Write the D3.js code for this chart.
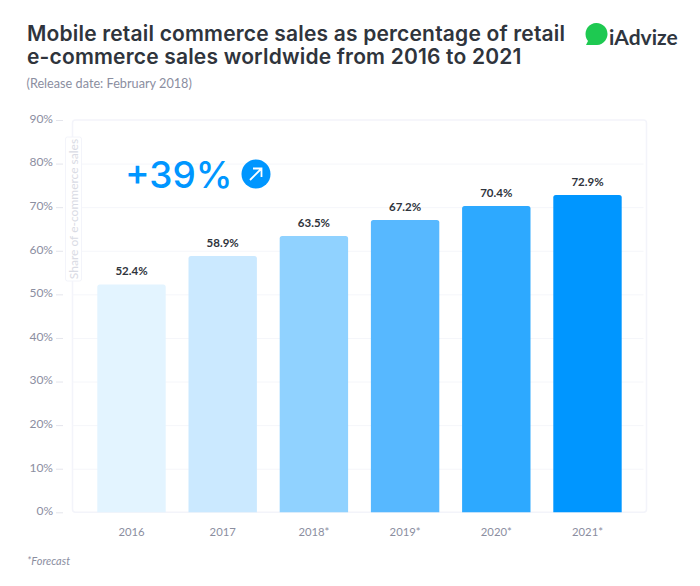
<!DOCTYPE html>
<html lang="en">
<head>
    <meta charset="UTF-8">
    <title>Mobile retail commerce sales</title>
    <script src="https://d3js.org/d3.v7.min.js"></script>
    <style>
        html, body { margin: 0; background: #fff; }
        svg { display: block; font-family: Lato, sans-serif; }
        .axis path { display: none; }
        .title { font-family: Inter, sans-serif; font-size: 21px; letter-spacing: 0.18px; font-weight: 600; fill: #2f343c; }
        .tickLabel text { font-size: 12px; fill: #8b8e9f; font-family: Lato, sans-serif; }
        .tickLabel line { stroke: #e4e5ec; }
        .grid line { stroke: #f5f6fa; }
        .grid text { display: none; }
    </style>
</head>
<body>
    <div id="chart"></div>
    <script>
        const years = ["2016", "2017", "2018*", "2019*", "2020*", "2021*"];
        const shares = [52.4, 58.9, 63.5, 67.2, 70.4, 72.9];
        const barColors = ["#e3f4ff", "#cbe9ff", "#90d2ff", "#57b8ff", "#2da9ff", "#0096ff"];
        const yTicks = [0, 10, 20, 30, 40, 50, 60, 70, 80, 90];
        const titleLines = ["Mobile retail commerce sales as percentage of retail",
            "e-commerce sales worldwide from 2016 to 2021"];

        const width = 700, height = 586;
        const plotLeft = 72.5, plotRight = 646.5, plotTop = 120, plotBottom = 512.3;

        const svg = d3.select("#chart").append("svg")
            .attr("width", width)
            .attr("height", height);

        const x = d3.scaleBand()
            .domain(years)
            .range([plotLeft, plotRight])
            .paddingInner(0.25)
            .paddingOuter(0.272);

        const y = d3.scaleLinear()
            .domain([0, 90])
            .range([plotBottom, plotTop]);

        // title block
        svg.selectAll(".title")
            .data(titleLines)
            .join("text")
            .attr("class", "title")
            .attr("x", 27)
            .attr("y", (d, i) => 41 + i * 23)
            .text(d => d);

        svg.append("text")
            .attr("x", 26.5)
            .attr("y", 87.5)
            .attr("font-size", 12.7)
            .attr("fill", "#8b8e9f")
            .text("(Release date: February 2018)");

        // plot frame
        svg.append("rect")
            .attr("x", plotLeft)
            .attr("y", plotTop)
            .attr("width", plotRight - plotLeft)
            .attr("height", plotBottom - plotTop)
            .attr("rx", 3)
            .attr("fill", "#fff")
            .attr("stroke", "#f3f4fa")
            .attr("stroke-width", 1.5);

        // gridlines and y labels
        svg.append("g")
            .attr("class", "grid axis")
            .attr("transform", `translate(${plotLeft},0)`)
            .call(d3.axisRight(y).tickValues(yTicks.slice(1, -1)).tickSize(plotRight - plotLeft - 3));

        svg.append("g")
            .attr("class", "tickLabel axis")
            .attr("transform", "translate(63,0)")
            .call(d3.axisLeft(y).tickValues(yTicks).tickSize(7).tickPadding(3).tickFormat(d => d + "%"))
            .selectAll("text")
            .attr("dy", "0.2em");

        // bars, rounded at the top only (0.5 matches the offset d3 puts on axis ticks)
        const barPath = (d, i) => {
            const x0 = x(years[i]), w = x.bandwidth(), t = y(d) + 0.5, r = 2.5;
            return `M${x0},${plotBottom}V${t + r}Q${x0},${t} ${x0 + r},${t}H${x0 + w - r}Q${x0 + w},${t} ${x0 + w},${t + r}V${plotBottom}Z`;
        };

        svg.selectAll(".bar")
            .data(shares)
            .join("path")
            .attr("class", "bar")
            .attr("d", barPath)
            .attr("fill", (d, i) => barColors[i]);

        svg.selectAll(".value")
            .data(shares)
            .join("text")
            .attr("class", "value")
            .attr("x", (d, i) => x(years[i]) + x.bandwidth() / 2)
            .attr("y", d => y(d) - 8.5)
            .attr("text-anchor", "middle")
            .attr("font-size", 11.5)
            .attr("font-weight", 700)
            .attr("fill", "#2f343c")
            .text(d => d.toFixed(1) + "%");

        // x labels
        svg.selectAll(".year")
            .data(years)
            .join("text")
            .attr("class", "year")
            .attr("x", d => x(d) + x.bandwidth() / 2)
            .attr("y", 536)
            .attr("text-anchor", "middle")
            .attr("font-size", 11.3)
            .attr("fill", "#8b8e9f")
            .text(d => d);

        // y axis title in its little box
        svg.append("rect")
            .attr("x", 65.5)
            .attr("y", 137)
            .attr("width", 16)
            .attr("height", 144)
            .attr("rx", 2)
            .attr("fill", "#fff")
            .attr("stroke", "#f3f4fa");

        svg.append("text")
            .attr("transform", "translate(77.5,209) rotate(-90)")
            .attr("text-anchor", "middle")
            .attr("font-size", 12)
            .attr("fill", "#d9dbe4")
            .text("Share of e-commerce sales");

        // callout
        svg.append("text")
            .attr("x", 125)
            .attr("y", 188)
            .attr("font-family", "Inter, sans-serif")
            .attr("font-size", 37)
            .attr("font-weight", 500)
            .attr("fill", "#0096ff")
            .text("+39%");

        const badge = svg.append("g").attr("transform", "translate(256,174)");
        badge.append("circle").attr("r", 14.5).attr("fill", "#0096ff");
        badge.append("path")
            .attr("d", "M-6,6L5.5,-5.5M-3,-5.5H5.5V3")
            .attr("fill", "none")
            .attr("stroke", "#fff")
            .attr("stroke-width", 1.8);

        // logo
        svg.append("path")
            .attr("d", "M586,45L588,41A11,11 0 1 1 597,45Z")
            .attr("fill", "#1ec951");

        svg.append("text")
            .attr("x", 609)
            .attr("y", 44.5)
            .attr("font-size", 21)
            .attr("font-weight", 700)
            .attr("fill", "#2f3640")
            .text("iAdvize");

        svg.append("text")
            .attr("x", 27)
            .attr("y", 565)
            .attr("font-size", 11)
            .attr("font-style", "italic")
            .attr("fill", "#8b8e9f")
            .text("*Forecast");
    </script>
</body>
</html>
